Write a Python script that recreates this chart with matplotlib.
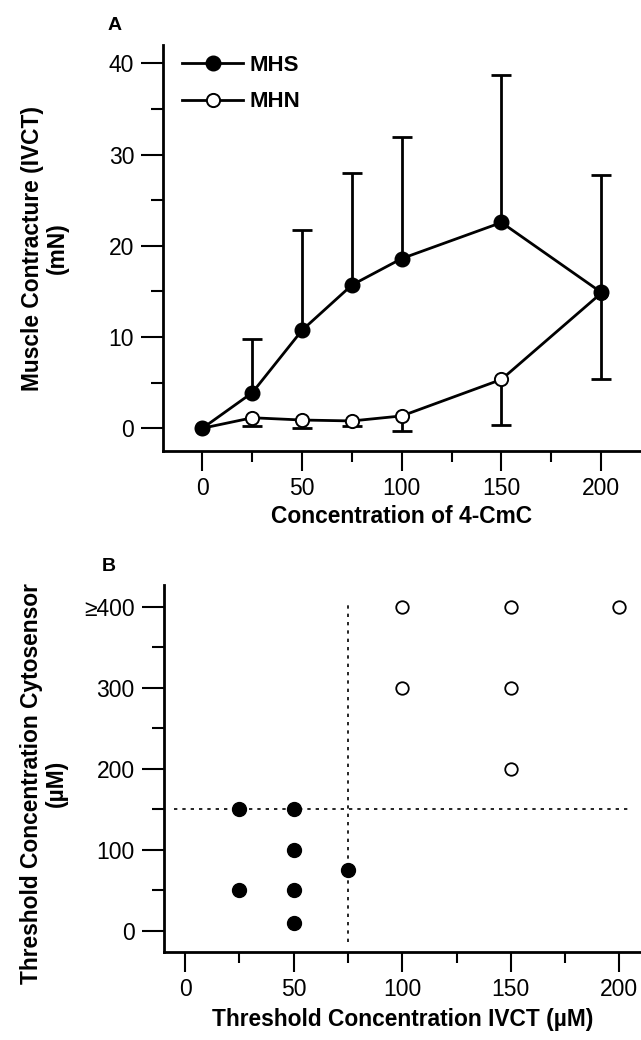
import matplotlib
matplotlib.use("Agg")
import matplotlib.pyplot as plt
import numpy as np
from matplotlib.ticker import MultipleLocator

plt.rcParams['font.family'] = ['Liberation Sans', 'DejaVu Sans']

# Panel A: contracture vs. 4-CmC concentration
conc = [0, 25, 50, 75, 100, 150, 200]
mhs_mean = [0, 3.9, 10.75, 15.7, 18.6, 22.55, 14.9]
mhs_sd = [0, 5.9, 10.95, 12.3, 13.35, 16.2, 12.9]      # drawn upward
mhn_mean = [0, 1.15, 0.9, 0.8, 1.35, 5.35, 14.8]
mhn_sd = [0, 0.85, 0.85, 0.6, 1.6, 4.95, 9.35]         # drawn downward

# Panel B: threshold IVCT vs threshold cytosensor
mhs_ivct = [25, 50, 50, 25, 50, 50, 75]
mhs_cyto = [150, 150, 100, 50, 50, 10, 75]
mhn_ivct = [100, 150, 200, 100, 150, 150]
mhn_cyto = [400, 400, 400, 300, 300, 200]
ivct_threshold = 75
cyto_threshold = 150
b_yticks = [0, 100, 200, 300, 400]
b_yticklabels = ['0', '100', '200', '300', '\u2265400']

fig = plt.figure(figsize=(6.41, 10.40), dpi=100)

def style_axes(ax):
    for s in ['top', 'right']:
        ax.spines[s].set_visible(False)
    for s in ['left', 'bottom']:
        ax.spines[s].set_linewidth(2.0)
    ax.tick_params(axis='y', which='major', length=15.8, width=1.5, pad=5,
                   labelsize=16.5, direction='out')
    ax.tick_params(axis='y', which='minor', length=8.6, width=1.5, direction='out')
    ax.tick_params(axis='x', which='major', length=14.5, width=1.5, pad=4,
                   labelsize=16.5, direction='out')
    ax.tick_params(axis='x', which='minor', length=8.0, width=1.5, direction='out')
    ax.xaxis.set_major_locator(MultipleLocator(50))
    ax.xaxis.set_minor_locator(MultipleLocator(25))

# ---------- panel A ----------
axA = fig.add_axes([0.2543, 0.5663, 0.7457, 0.3904])
style_axes(axA)
axA.set_xlim(-19.8, 220)
axA.set_ylim(-2.5, 42)
axA.yaxis.set_major_locator(MultipleLocator(10))
axA.yaxis.set_minor_locator(MultipleLocator(5))

x = np.array(conc)
mm, ms = np.array(mhs_mean), np.array(mhs_sd)
nm, ns = np.array(mhn_mean), np.array(mhn_sd)
k = x > 0
# error bars: MHS upward, MHN downward
axA.vlines(x[k], mm[k], mm[k] + ms[k], color='black', lw=2.0, zorder=2)
axA.plot(x[k], mm[k] + ms[k], ls='none', marker='_', ms=14, mew=2.0, color='black', zorder=2)
axA.vlines(x[k], nm[k] - ns[k], nm[k], color='black', lw=2.0, zorder=2)
axA.plot(x[k], nm[k] - ns[k], ls='none', marker='_', ms=14, mew=2.0, color='black', zorder=2)

axA.plot(x, nm, '-o', color='black', lw=2.0, ms=9.5, mfc='white', mec='black',
         mew=1.4, label='MHN', zorder=3)
axA.plot(x, mm, '-o', color='black', lw=2.0, ms=10.5, mfc='black', mec='black',
         label='MHS', zorder=4)

h, l = axA.get_legend_handles_labels()
axA.legend(h[::-1], l[::-1], loc='upper left', bbox_to_anchor=(0.04, 0.975),
           frameon=False, borderpad=0, borderaxespad=0, handlelength=2.75,
           handletextpad=0.3, labelspacing=0.68,
           prop={'size': 16, 'weight': 'bold'})

axA.set_xlabel('Concentration of 4-CmC', fontsize=16.4, fontweight='bold')
axA.xaxis.set_label_coords(0.5, -0.162)
axA.xaxis.label.set_va('center')
axA.set_ylabel('Muscle Contracture (IVCT)\n(mN)', fontsize=16.4, fontweight='bold',
               linespacing=1.15)
axA.yaxis.set_label_coords(-0.247, 0.5)
axA.yaxis.label.set_va('center')
fig.text(114.5 / 641, 1 - 25 / 1040, 'A', fontsize=14, fontweight='bold',
         ha='center', va='center')

# ---------- panel B ----------
axB = fig.add_axes([0.2551, 0.0846, 0.7449, 0.3529])
style_axes(axB)
axB.set_xlim(-10, 210)
axB.set_ylim(-26.3, 426.8)
axB.set_yticks(b_yticks)
axB.set_yticklabels(b_yticklabels)
axB.yaxis.set_minor_locator(MultipleLocator(50))

axB.plot([ivct_threshold, ivct_threshold], [-14, 402], color='black', lw=1.2,
         ls=(0, (2, 3)), zorder=1)
axB.plot([-5, 205], [cyto_threshold, cyto_threshold], color='black', lw=1.2,
         ls=(0, (2, 3)), zorder=1)
axB.plot(mhs_ivct, mhs_cyto, ls='none', marker='o', ms=10, mfc='black',
         mec='black', zorder=3)
axB.plot(mhn_ivct, mhn_cyto, ls='none', marker='o', ms=9, mfc='white',
         mec='black', mew=1.3, zorder=3)

axB.set_xlabel('Threshold Concentration IVCT (\u00b5M)', fontsize=16.4, fontweight='bold')
axB.xaxis.set_label_coords(0.5, -0.185)
axB.xaxis.label.set_va('center')
axB.set_ylabel('Threshold Concentration Cytosensor\n(\u00b5M)', fontsize=16.4,
               fontweight='bold', linespacing=1.1)
axB.yaxis.set_label_coords(-0.25, 0.46)
axB.yaxis.label.set_va('center')
fig.text(108.3 / 641, 1 - 566.7 / 1040, 'B', fontsize=14, fontweight='bold',
         ha='center', va='center')

fig.savefig('out.png', dpi=100)
